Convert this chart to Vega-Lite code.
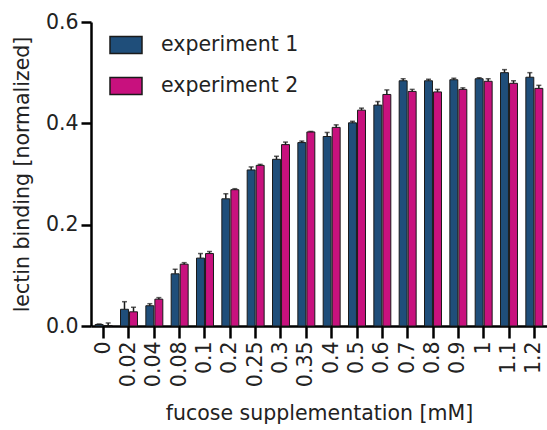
{
  "$schema": "https://vega.github.io/schema/vega-lite/v6.json",
  "width": 456,
  "height": 304,
  "autosize": "none",
  "padding": {"left": 91, "top": 22, "right": 0, "bottom": 104},
  "background": "white",
  "config": {
    "font": "DejaVu Sans",
    "view": {"stroke": null},
    "axis": {"grid": false, "domainColor": "black", "domainWidth": 2.5, "tickColor": "black", "tickWidth": 2.5, "labelColor": "#222", "titleColor": "#222", "labelFontSize": 20.5, "titleFontSize": 20.5, "titleFontWeight": "normal", "labelFont": "DejaVu Sans", "titleFont": "DejaVu Sans"}
  },
  "data": {"values": [
    {"dose": "0", "exp": "experiment 1", "value": 0.003, "upper": 0.004},
    {"dose": "0", "exp": "experiment 2", "value": 0.001, "upper": 0.006},
    {"dose": "0.02", "exp": "experiment 1", "value": 0.033, "upper": 0.048},
    {"dose": "0.02", "exp": "experiment 2", "value": 0.028, "upper": 0.037},
    {"dose": "0.04", "exp": "experiment 1", "value": 0.040, "upper": 0.044},
    {"dose": "0.04", "exp": "experiment 2", "value": 0.053, "upper": 0.056},
    {"dose": "0.08", "exp": "experiment 1", "value": 0.103, "upper": 0.112},
    {"dose": "0.08", "exp": "experiment 2", "value": 0.122, "upper": 0.125},
    {"dose": "0.1", "exp": "experiment 1", "value": 0.134, "upper": 0.143},
    {"dose": "0.1", "exp": "experiment 2", "value": 0.143, "upper": 0.147},
    {"dose": "0.2", "exp": "experiment 1", "value": 0.251, "upper": 0.261},
    {"dose": "0.2", "exp": "experiment 2", "value": 0.269, "upper": 0.271},
    {"dose": "0.25", "exp": "experiment 1", "value": 0.308, "upper": 0.314},
    {"dose": "0.25", "exp": "experiment 2", "value": 0.317, "upper": 0.319},
    {"dose": "0.3", "exp": "experiment 1", "value": 0.329, "upper": 0.335},
    {"dose": "0.3", "exp": "experiment 2", "value": 0.358, "upper": 0.363},
    {"dose": "0.35", "exp": "experiment 1", "value": 0.362, "upper": 0.365},
    {"dose": "0.35", "exp": "experiment 2", "value": 0.383, "upper": 0.384},
    {"dose": "0.4", "exp": "experiment 1", "value": 0.374, "upper": 0.382},
    {"dose": "0.4", "exp": "experiment 2", "value": 0.392, "upper": 0.397},
    {"dose": "0.5", "exp": "experiment 1", "value": 0.401, "upper": 0.404},
    {"dose": "0.5", "exp": "experiment 2", "value": 0.426, "upper": 0.430},
    {"dose": "0.6", "exp": "experiment 1", "value": 0.436, "upper": 0.443},
    {"dose": "0.6", "exp": "experiment 2", "value": 0.457, "upper": 0.466},
    {"dose": "0.7", "exp": "experiment 1", "value": 0.484, "upper": 0.488},
    {"dose": "0.7", "exp": "experiment 2", "value": 0.463, "upper": 0.467},
    {"dose": "0.8", "exp": "experiment 1", "value": 0.484, "upper": 0.487},
    {"dose": "0.8", "exp": "experiment 2", "value": 0.462, "upper": 0.467},
    {"dose": "0.9", "exp": "experiment 1", "value": 0.486, "upper": 0.489},
    {"dose": "0.9", "exp": "experiment 2", "value": 0.467, "upper": 0.470},
    {"dose": "1", "exp": "experiment 1", "value": 0.488, "upper": 0.490},
    {"dose": "1", "exp": "experiment 2", "value": 0.483, "upper": 0.488},
    {"dose": "1.1", "exp": "experiment 1", "value": 0.500, "upper": 0.506},
    {"dose": "1.1", "exp": "experiment 2", "value": 0.479, "upper": 0.484},
    {"dose": "1.2", "exp": "experiment 1", "value": 0.491, "upper": 0.500},
    {"dose": "1.2", "exp": "experiment 2", "value": 0.469, "upper": 0.475}
  ]},
  "encoding": {
    "x": {"field": "dose", "type": "nominal", "sort": null,
      "scale": {"paddingInner": 0.33, "paddingOuter": 0.165},
      "axis": {"title": "fucose supplementation [mM]", "labelAngle": -90, "tickSize": 12, "labelPadding": 3, "titlePadding": 17}},
    "xOffset": {"field": "exp", "type": "nominal", "scale": {"paddingInner": 0.12}}
  },
  "layer": [
    {
      "mark": {"type": "bar", "stroke": "#1a1a1a", "strokeWidth": 1},
      "encoding": {
        "y": {"field": "value", "type": "quantitative",
          "scale": {"domain": [0, 0.6], "nice": false},
          "axis": {"title": "lectin binding [normalized]", "values": [0, 0.2, 0.4, 0.6], "format": ".1f", "tickSize": 10, "labelPadding": 3, "titlePadding": 13}},
        "color": {"field": "exp", "type": "nominal",
          "scale": {"domain": ["experiment 1", "experiment 2"], "range": ["#1f4e7a", "#c8117e"]},
          "legend": {"title": null, "orient": "none", "legendX": 18, "legendY": 6, "symbolType": "M-1,-0.53H1V0.53H-1Z", "symbolSize": 1024, "symbolStrokeColor": "#1a1a1a", "symbolStrokeWidth": 1.5, "symbolOpacity": 1, "labelFontSize": 20.5, "labelFont": "DejaVu Sans", "labelColor": "#222", "rowPadding": 12, "labelOffset": 18}}
      }
    },
    {
      "mark": {"type": "rule", "color": "#1a1a1a", "strokeWidth": 1.5},
      "encoding": {
        "y": {"field": "value", "type": "quantitative"},
        "y2": {"field": "upper"}
      }
    },
    {
      "mark": {"type": "tick", "color": "#1a1a1a", "thickness": 1.5, "size": 5, "orient": "horizontal"},
      "encoding": {
        "y": {"field": "upper", "type": "quantitative"}
      }
    }
  ]
}
